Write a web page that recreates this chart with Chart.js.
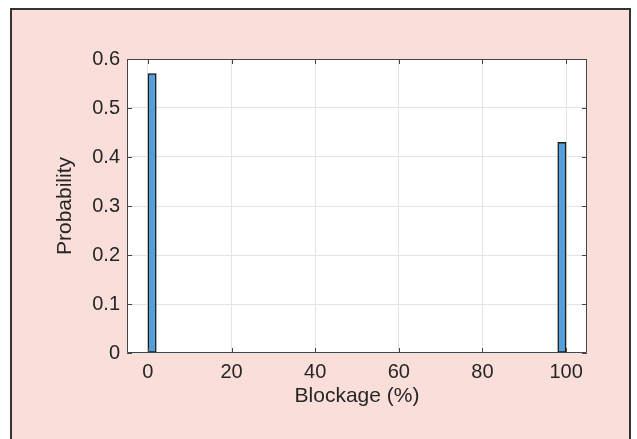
<!DOCTYPE html>
<html>
<head>
<meta charset="utf-8">
<script src="https://cdn.jsdelivr.net/npm/chart.js@4"></script>
<style>
  html, body { margin: 0; padding: 0; background: #fff; width: 637px; height: 439px; overflow: hidden; }
  #frame {
    position: absolute; left: 10px; top: 8px; width: 617px; height: 440px;
    border: 2px solid #333; border-bottom: none; background: #f9ded9;
  }
  #chart { position: absolute; left: 0; top: 0; }
</style>
</head>
<body>
<div id="frame"></div>
<canvas id="chart" width="637" height="439"></canvas>
<script>
// Histogram bins (width 2) and their probabilities
const binCenters = [
  1, 3, 5, 7, 9, 11, 13, 15, 17, 19,
  21, 23, 25, 27, 29, 31, 33, 35, 37, 39,
  41, 43, 45, 47, 49, 51, 53, 55, 57, 59,
  61, 63, 65, 67, 69, 71, 73, 75, 77, 79,
  81, 83, 85, 87, 89, 91, 93, 95, 97, 99
];
const probabilities = [
  0.57, 0, 0, 0, 0, 0, 0, 0, 0, 0,
  0, 0, 0, 0, 0, 0, 0, 0, 0, 0,
  0, 0, 0, 0, 0, 0, 0, 0, 0, 0,
  0, 0, 0, 0, 0, 0, 0, 0, 0, 0,
  0, 0, 0, 0, 0, 0, 0, 0, 0, 0.43
];
const xTicks = [0, 20, 40, 60, 80, 100];
const yTicks = [0, 0.1, 0.2, 0.3, 0.4, 0.5, 0.6];

const textColor = '#262626';
const axisColor = '#444';
const gridColor = '#e4e4e4';
const fontFamily = '"Liberation Sans", Arial, Helvetica, sans-serif';

// white plot area + box on top/right + inward tick marks (MATLAB style)
const boxPlugin = {
  id: 'box',
  beforeDraw(chart) {
    const { ctx, chartArea: a } = chart;
    ctx.save();
    ctx.fillStyle = '#fff';
    ctx.fillRect(a.left, a.top, a.right - a.left, a.bottom - a.top);
    ctx.restore();
  },
  afterDraw(chart) {
    const { ctx, chartArea: a, scales } = chart;
    const len = 5;
    ctx.save();
    ctx.strokeStyle = axisColor;
    ctx.lineWidth = 1;
    ctx.beginPath();
    ctx.rect(a.left + 0.5, a.top + 0.5, a.right - a.left - 1, a.bottom - a.top - 1);
    xTicks.forEach(v => {
      const px = Math.round(scales.x.getPixelForValue(v)) + 0.5;
      ctx.moveTo(px, a.bottom); ctx.lineTo(px, a.bottom - len);
      ctx.moveTo(px, a.top); ctx.lineTo(px, a.top + len);
    });
    yTicks.forEach(v => {
      const py = Math.round(scales.y.getPixelForValue(v)) + 0.5;
      ctx.moveTo(a.left, py); ctx.lineTo(a.left + len, py);
      ctx.moveTo(a.right, py); ctx.lineTo(a.right - len, py);
    });
    ctx.stroke();
    ctx.restore();
  }
};

const ctx = document.getElementById('chart').getContext('2d');
new Chart(ctx, {
  type: 'bar',
  data: {
    datasets: [{
      data: binCenters.map((x, i) => ({ x: x, y: probabilities[i] })),
      backgroundColor: '#55a0da',
      borderColor: '#1c1c1c',
      borderWidth: 1.5,
      borderSkipped: false,
      barPercentage: 1,
      categoryPercentage: 1
    }]
  },
  options: {
    responsive: false,
    animation: false,
    layout: { padding: { left: 53, top: 59, right: 50, bottom: 0 } },
    plugins: { legend: { display: false }, tooltip: { enabled: false } },
    scales: {
      x: {
        type: 'linear',
        min: -5,
        max: 105,
        offset: false,
        grid: { offset: false, color: gridColor, drawTicks: false },
        border: { display: false },
        afterBuildTicks: s => { s.ticks = xTicks.map(v => ({ value: v })); },
        afterFit: s => { s.height = 86; },
        ticks: {
          color: textColor, padding: 7,
          font: { family: fontFamily, size: 20 },
          maxRotation: 0
        },
        title: {
          display: true, text: 'Blockage (%)', color: textColor,
          font: { family: fontFamily, size: 21 },
          padding: { top: 0, bottom: 30 }
        }
      },
      y: {
        min: 0,
        max: 0.6,
        grid: { color: gridColor, drawTicks: false },
        border: { display: false },
        afterBuildTicks: s => { s.ticks = yTicks.map(v => ({ value: v })); },
        afterFit: s => { s.width = 74; },
        ticks: {
          color: textColor, padding: 7,
          font: { family: fontFamily, size: 20 },
          callback: v => String(v)
        },
        title: {
          display: true, text: 'Probability', color: textColor,
          font: { family: fontFamily, size: 21 },
          padding: { top: 0, bottom: 0 }
        }
      }
    }
  },
  plugins: [boxPlugin]
});
</script>
</body>
</html>
